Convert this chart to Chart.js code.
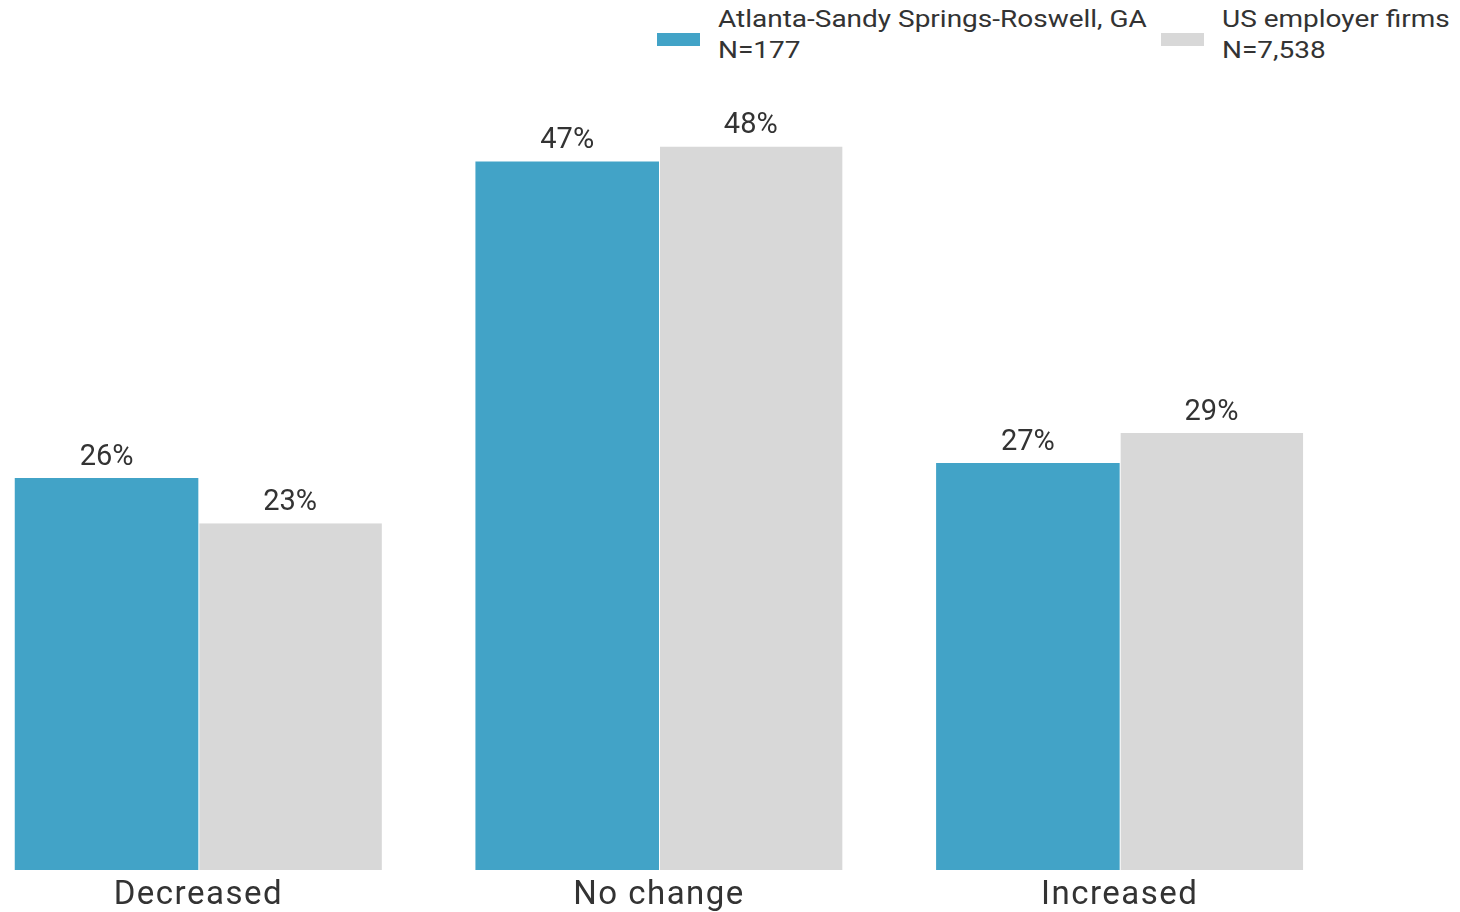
<!DOCTYPE html>
<html>
<head>
<meta charset="utf-8">
<script src="https://cdn.jsdelivr.net/npm/chart.js@4/dist/chart.umd.min.js"></script>
<style>
  html, body { margin: 0; padding: 0; background: #fff; }
  body { width: 1460px; height: 912px; position: relative; overflow: hidden; font-family: Roboto, sans-serif; color: #333; }
  #wrap { position: absolute; left: -32px; top: 0; width: 1382px; height: 912px; }
  .lg { position: absolute; font-size: 24px; line-height: 31px; white-space: nowrap; transform: scaleX(1.166); transform-origin: left top; }
  .sw { position: absolute; width: 43px; height: 13px; }
</style>
</head>
<body>
<div id="legend"></div>
<div id="wrap"><canvas id="chart"></canvas></div>
<script>
// values (percent of firms)
const categories = ['Decreased', 'No change', 'Increased'];
const seriesNames = ['Atlanta-Sandy Springs-Roswell, GA', 'US employer firms'];
const seriesN = ['N=177', 'N=7,538'];
const atlanta = [26, 47, 27];
const usFirms = [23, 48, 29];
const colors = ['#42a3c7', '#d8d8d8'];

// legend as html, two lines per entry
const legendPos = [{ sw: 657, tx: 718 }, { sw: 1161, tx: 1222 }];
const legendEl = document.getElementById('legend');
seriesNames.forEach(function (name, i) {
  const sw = document.createElement('div');
  sw.className = 'sw';
  sw.style.left = legendPos[i].sw + 'px';
  sw.style.top = '33px';
  sw.style.background = colors[i];
  legendEl.appendChild(sw);
  const t = document.createElement('div');
  t.className = 'lg';
  t.style.left = legendPos[i].tx + 'px';
  t.style.top = '4px';
  t.innerHTML = name + '<br>' + seriesN[i];
  legendEl.appendChild(t);
});

// wider spacing for the category labels
const tickSpacing = {
  id: 'tickSpacing',
  beforeDraw(chart) { chart.ctx.letterSpacing = '1.5px'; },
  afterDraw(chart) { chart.ctx.letterSpacing = '0px'; }
};

// draws the % above each bar
const valueLabels = {
  id: 'valueLabels',
  afterDatasetsDraw(chart) {
    const ctx = chart.ctx;
    ctx.save();
    ctx.letterSpacing = '0px';
    ctx.font = '29px Roboto';
    ctx.fillStyle = '#333';
    ctx.textAlign = 'center';
    ctx.textBaseline = 'bottom';
    chart.data.datasets.forEach(function (ds, i) {
      chart.getDatasetMeta(i).data.forEach(function (bar, j) {
        ctx.fillText(ds.data[j] + '%', bar.x, bar.y - 6);
      });
    });
    ctx.restore();
  }
};

const ctx = document.getElementById('chart').getContext('2d');
new Chart(ctx, {
  type: 'bar',
  data: {
    labels: categories,
    datasets: [{
      label: seriesNames[0],
      data: atlanta,
      backgroundColor: colors[0],
      borderWidth: 0
    }, {
      label: seriesNames[1],
      data: usFirms,
      backgroundColor: colors[1],
      borderColor: '#ffffff',
      borderWidth: { left: 1, right: 0, top: 0, bottom: 0 },
      borderSkipped: false
    }]
  },
  options: {
    responsive: true,
    maintainAspectRatio: false,
    animation: false,
    barPercentage: 1,
    categoryPercentage: 0.797,
    layout: { padding: { top: 41, left: 0, right: 0, bottom: 0 } },
    plugins: {
      legend: { display: false },
      tooltip: { enabled: false }
    },
    scales: {
      x: {
        grid: { display: false, drawTicks: false },
        border: { display: false },
        ticks: { color: '#333', font: { family: 'Roboto', size: 33 }, padding: 6 },
        afterFit(scale) { scale.height = 42; }
      },
      y: {
        display: false,
        min: 0,
        max: 55
      }
    }
  },
  plugins: [valueLabels, tickSpacing]
});
</script>
</body>
</html>
